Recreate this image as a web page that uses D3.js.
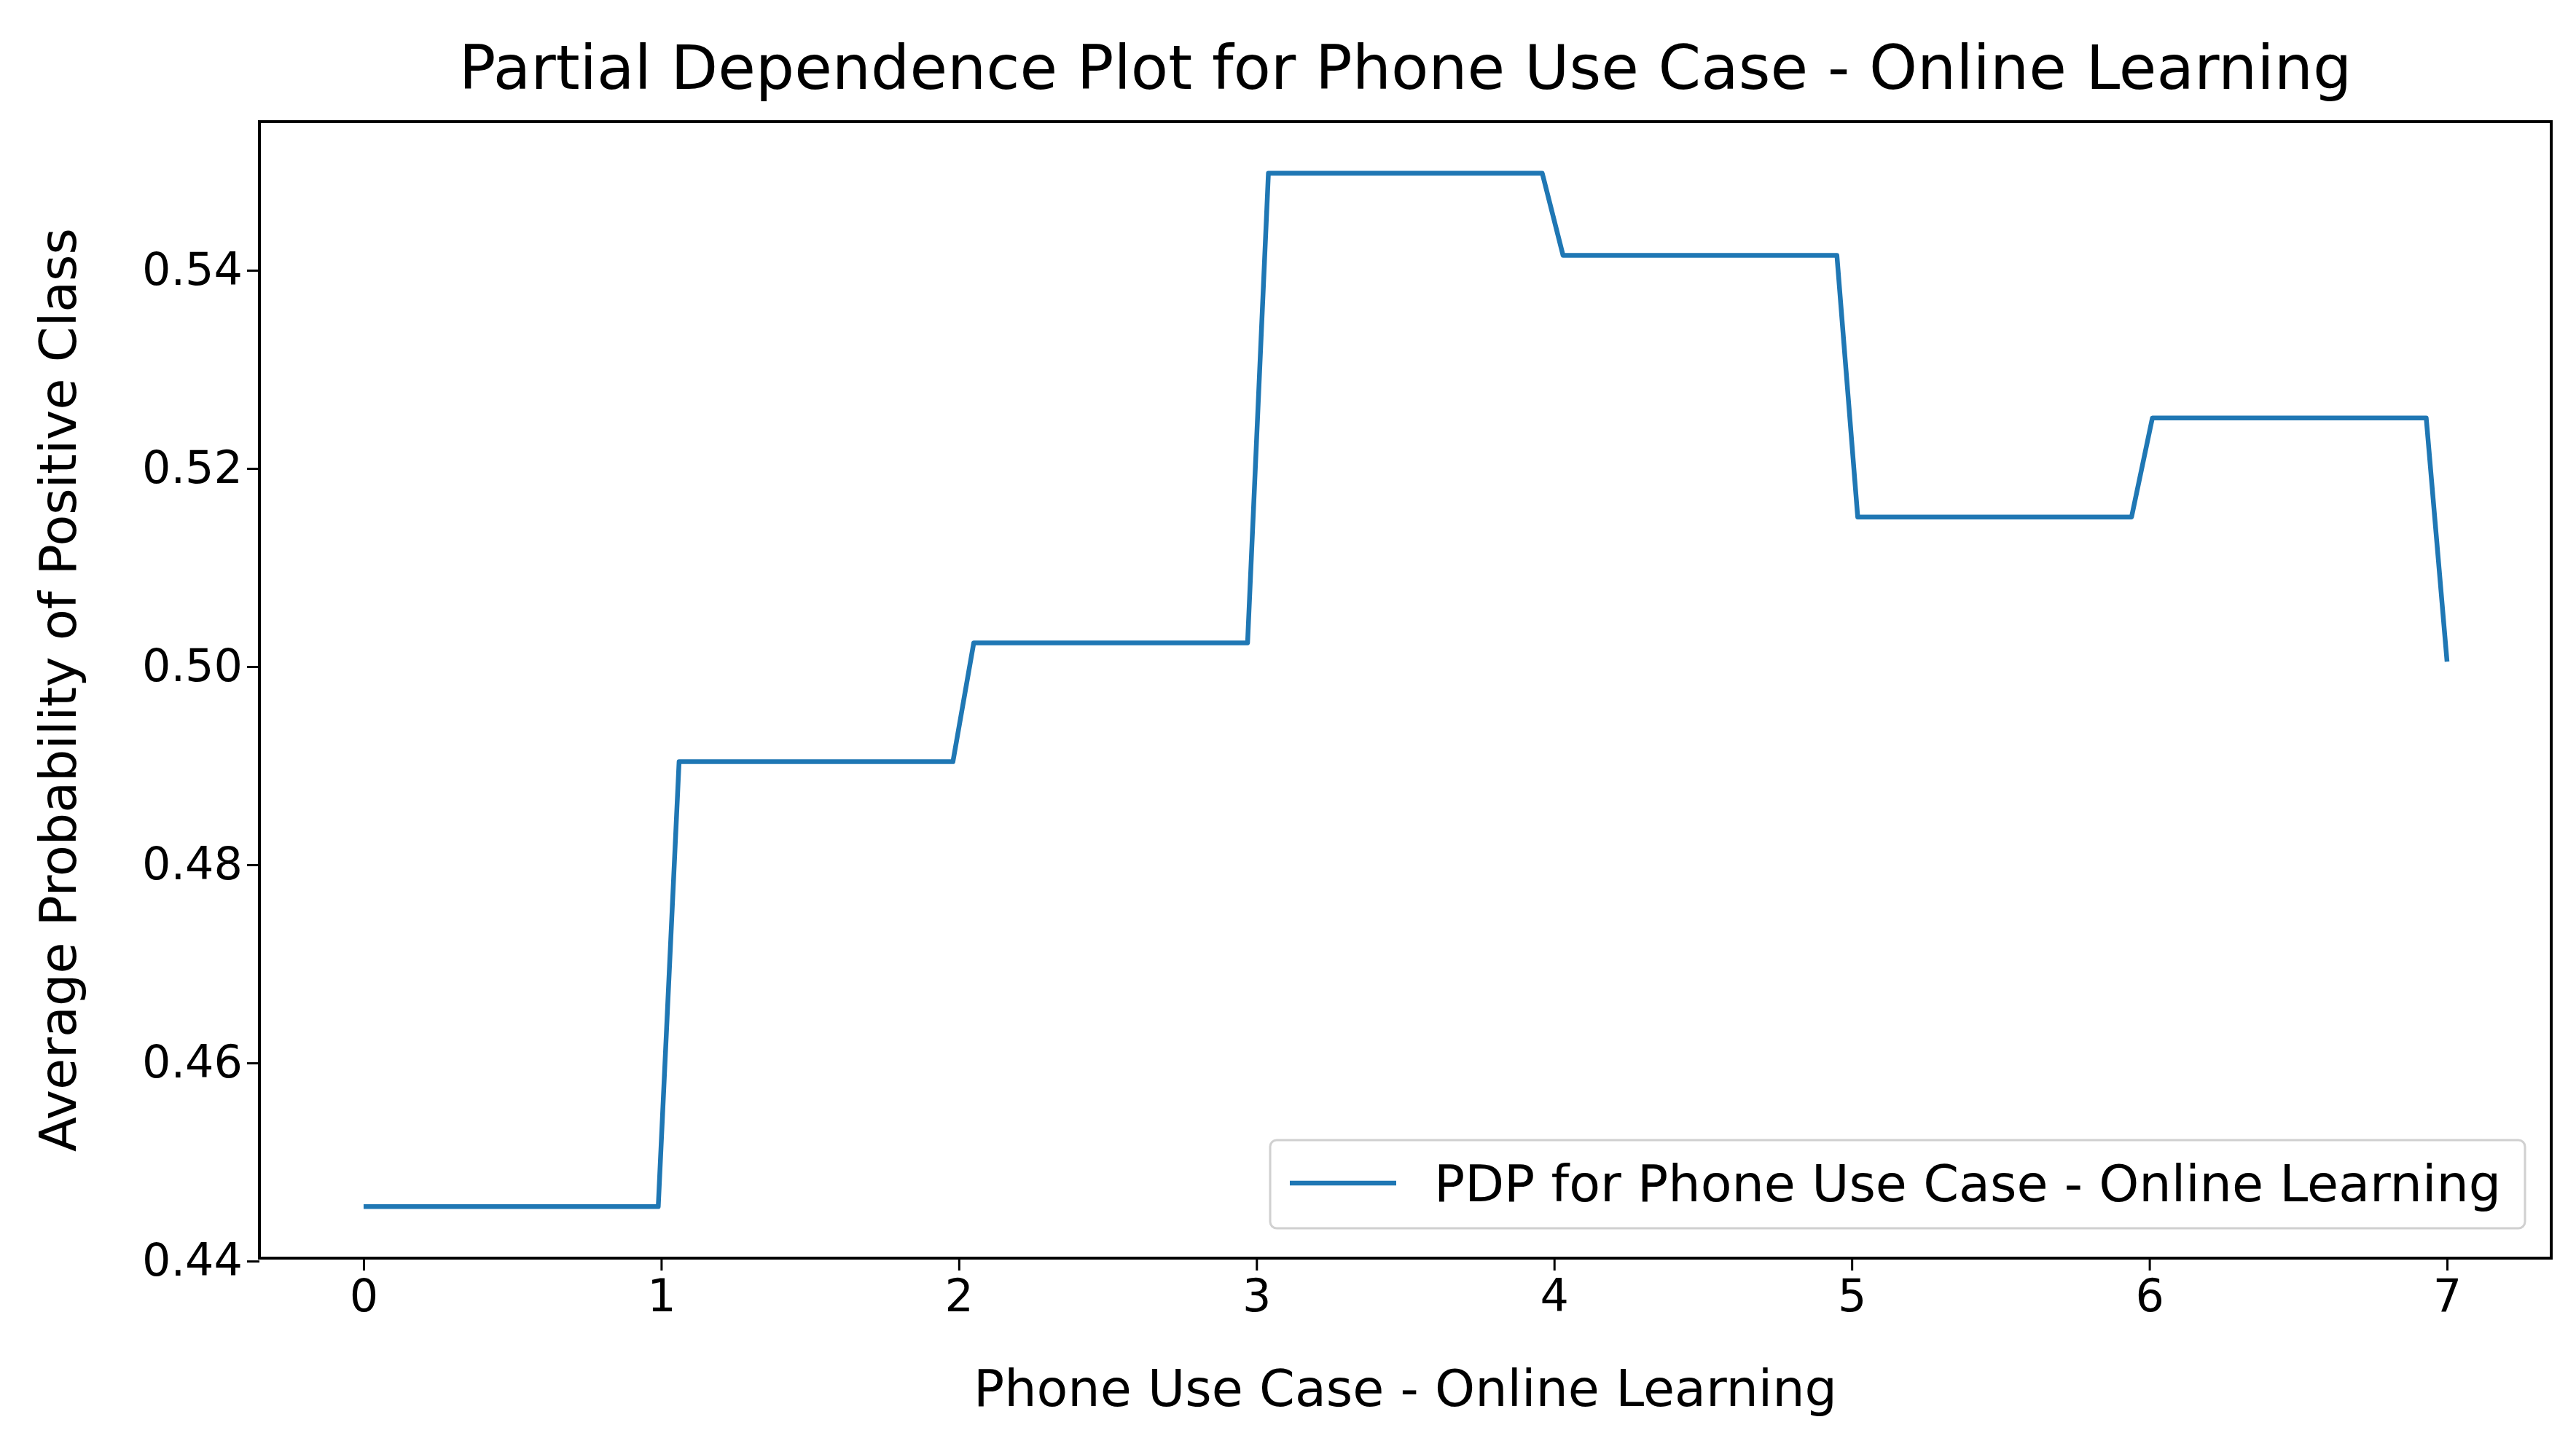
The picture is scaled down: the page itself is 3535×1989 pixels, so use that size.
<!DOCTYPE html>
<html>
<head>
<meta charset="utf-8">
<script src="https://cdn.jsdelivr.net/npm/d3@7"></script>
<style>
  body { margin: 0; background: #fff; }
  text { font-family: "DejaVu Sans", sans-serif; fill: #000; }
</style>
</head>
<body>
<div id="chart"></div>
<script>
// data
const xValues = [0, 0.99, 1.06, 1.98, 2.05, 2.97, 3.04, 3.96, 4.03, 4.95, 5.02, 5.94, 6.01, 6.93, 7];
const yValues = [0.4455, 0.4455, 0.4904, 0.4904, 0.5024, 0.5024, 0.5498, 0.5498, 0.5415, 0.5415, 0.5151, 0.5151, 0.5251, 0.5251, 0.5005];
const xTicks = [0, 1, 2, 3, 4, 5, 6, 7];
const yTicks = [0.44, 0.46, 0.48, 0.50, 0.52, 0.54];
const title = "Partial Dependence Plot for Phone Use Case - Online Learning";
const xLabel = "Phone Use Case - Online Learning";
const yLabel = "Average Probability of Positive Class";
const legendLabel = "PDP for Phone Use Case - Online Learning";

const width = 3535, height = 1989;
const margin = { top: 167, right: 34, bottom: 262, left: 356 };
const blue = "#1f77b4";

const data = xValues.map((x, i) => ({ x: x, y: yValues[i] }));

const x = d3.scaleLinear().domain([-0.35, 7.35]).range([margin.left, width - margin.right]);
const y = d3.scaleLinear().domain([0.4403, 0.555]).range([height - margin.bottom, margin.top]);

const svg = d3.select("#chart").append("svg")
    .attr("width", width)
    .attr("height", height);

// title
svg.append("text")
    .attr("x", (margin.left + width - margin.right) / 2)
    .attr("y", 122)
    .attr("text-anchor", "middle")
    .style("font-size", "84px")
    .text(title);

// line
const line = d3.line().x(d => x(d.x)).y(d => y(d.y));
svg.append("path")
    .datum(data)
    .attr("d", line)
    .attr("fill", "none")
    .attr("stroke", blue)
    .attr("stroke-width", 6.5)
    .attr("stroke-linejoin", "round");

// axes
const xAxis = d3.axisBottom(x).tickValues(xTicks).tickFormat(d3.format("d")).tickSize(17).tickPadding(12);
const yAxis = d3.axisLeft(y).tickValues(yTicks).tickFormat(d3.format(".2f")).tickSize(17).tickPadding(6);

svg.append("g")
    .attr("transform", `translate(0,${height - margin.bottom})`)
    .call(xAxis)
    .call(g => g.select(".domain").remove())
    .call(g => g.selectAll("line").attr("stroke-width", 3))
    .call(g => g.selectAll("text").style("font-size", "62px").style("font-family", "DejaVu Sans"));

svg.append("g")
    .attr("transform", `translate(${margin.left},0)`)
    .call(yAxis)
    .call(g => g.select(".domain").remove())
    .call(g => g.selectAll("line").attr("stroke-width", 3))
    .call(g => g.selectAll("text").style("font-size", "62px").style("font-family", "DejaVu Sans"));

// frame
svg.append("rect")
    .attr("x", margin.left)
    .attr("y", margin.top)
    .attr("width", width - margin.left - margin.right)
    .attr("height", height - margin.top - margin.bottom)
    .attr("fill", "none")
    .attr("stroke", "#000")
    .attr("stroke-width", 4);

// axis labels
svg.append("text")
    .attr("x", (margin.left + width - margin.right) / 2)
    .attr("y", 1930)
    .attr("text-anchor", "middle")
    .style("font-size", "70px")
    .text(xLabel);

svg.append("text")
    .attr("transform", `translate(104,${(margin.top + height - margin.bottom) / 2}) rotate(-90)`)
    .attr("text-anchor", "middle")
    .style("font-size", "70px")
    .text(yLabel);

// legend
const legend = svg.append("g");
legend.append("rect")
    .attr("x", 1743).attr("y", 1565)
    .attr("width", 1722).attr("height", 121)
    .attr("rx", 9)
    .attr("fill", "#fff")
    .attr("fill-opacity", 0.8)
    .attr("stroke", "#d0d0d0")
    .attr("stroke-width", 3);
legend.append("line")
    .attr("x1", 1770).attr("x2", 1916)
    .attr("y1", 1624).attr("y2", 1624)
    .attr("stroke", blue)
    .attr("stroke-width", 6.5);
legend.append("text")
    .attr("x", 1968).attr("y", 1649)
    .style("font-size", "70px")
    .text(legendLabel);
</script>
</body>
</html>
